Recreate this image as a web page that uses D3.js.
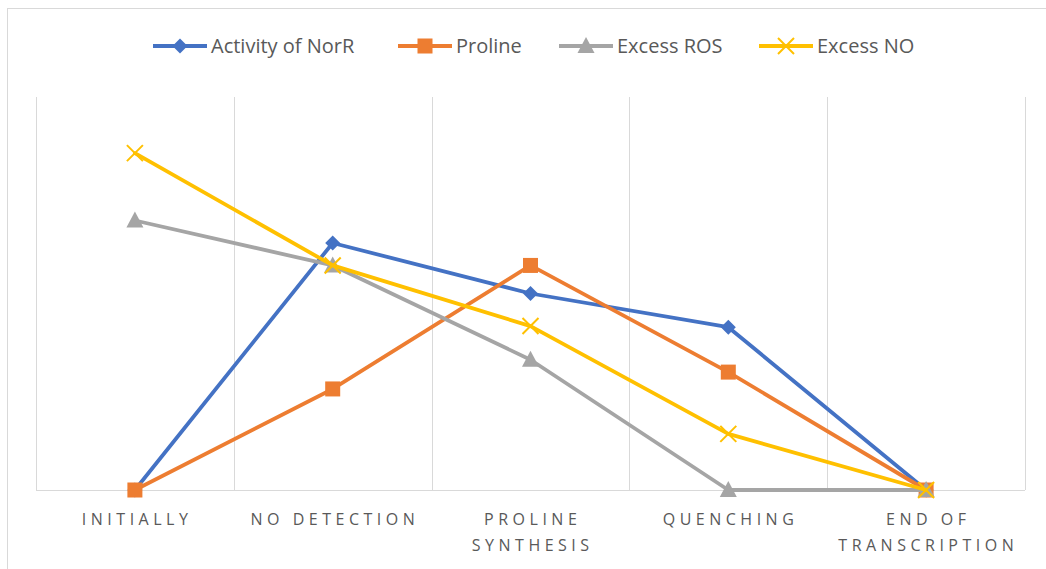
<!DOCTYPE html>
<html><head><meta charset="utf-8">
<script src="https://cdn.jsdelivr.net/npm/d3@7"></script>
<style>body{margin:0;background:#fff}svg{display:block}</style>
</head><body>
<script>
const categories = [["INITIALLY"],["NO DETECTION"],["PROLINE","SYNTHESIS"],["QUENCHING"],["END OF","TRANSCRIPTION"]];
const seriesNames = ["Activity of NorR","Proline","Excess ROS","Excess NO"];
const norR    = [0, 2.2, 1.75, 1.45, 0];
const proline = [0, 0.9, 2.0, 1.05, 0];
const ros     = [2.4, 2.0, 1.16, 0, 0];
const no      = [3.0, 2.0, 1.46, 0.5, 0];
const colors = ["#4472C4","#ED7D31","#A5A5A5","#FFC000"];
const markers = ["diamond","square","triangle","x"];
const allSeries = [norR, proline, ros, no];

(function(){
const W=1046,H=569;
const svg=d3.select("body").append("svg").attr("width",W).attr("height",H);
svg.append("rect").attr("x",7.5).attr("y",8.5).attr("width",W).attr("height",H).attr("fill","#fff").attr("stroke","#d9d9d9").attr("stroke-width",1);

const pl=36,pr=1025,pt=97,pb=490;
const x=d3.scaleBand().domain(d3.range(categories.length)).range([pl,pr]);
const y=d3.scaleLinear().domain([0,3.5]).range([pb,pt]);

const g=svg.append("g");
const edges=d3.range(categories.length+1).map(i=> i<categories.length? x(i): pr);
g.selectAll("line.grid").data(edges).join("line")
  .attr("x1",d=>Math.round(d)+0.5).attr("x2",d=>Math.round(d)+0.5)
  .attr("y1",pt).attr("y2",pb).attr("stroke","#d9d9d9").attr("stroke-width",1);
g.append("line").attr("x1",pl).attr("x2",pr).attr("y1",pb+0.5).attr("y2",pb+0.5).attr("stroke","#d9d9d9");

const cx=i=>x(i)+x.bandwidth()/2;
categories.forEach((lines,i)=>{
  const t=svg.append("text").attr("x",cx(i)).attr("y",525).attr("text-anchor","middle")
   .attr("font-family","'Open Sans', sans-serif").attr("font-size",16).attr("fill","#595959").attr("letter-spacing","4.5px");
  lines.forEach((l,j)=>t.append("tspan").attr("x",cx(i)+2.2).attr("dy",j?26:0).text(l));
});

function drawMarker(sel,type,color,px,py){
  if(type==="diamond"){
    sel.append("path").attr("d",`M${px},${py-7.5}L${px+7.5},${py}L${px},${py+7.5}L${px-7.5},${py}Z`).attr("fill",color);
  } else if(type==="square"){
    sel.append("rect").attr("x",px-7.5).attr("y",py-7.5).attr("width",15).attr("height",15).attr("fill",color);
  } else if(type==="triangle"){
    sel.append("path").attr("d",`M${px},${py-9}L${px+8.5},${py+7}L${px-8.5},${py+7}Z`).attr("fill",color);
  } else {
    sel.append("path").attr("d",`M${px-8},${py-8}L${px+8},${py+8}M${px+8},${py-8}L${px-8},${py+8}`).attr("stroke",color).attr("stroke-width",2).attr("fill","none");
  }
}

const line=d3.line().x((d,i)=>cx(i)).y(d=>y(d));
allSeries.forEach((s,k)=>{
  const sg=svg.append("g");
  sg.append("path").datum(s).attr("d",line).attr("fill","none").attr("stroke",colors[k]).attr("stroke-width",3.8).attr("stroke-linejoin","round").attr("stroke-linecap","round");
  s.forEach((v,i)=>drawMarker(sg,markers[k],colors[k],cx(i),y(v)));
});

const legX=[153,398,559,759];
seriesNames.forEach((n,k)=>{
  const lg=svg.append("g");
  lg.append("line").attr("x1",legX[k]).attr("x2",legX[k]+54).attr("y1",46).attr("y2",46).attr("stroke",colors[k]).attr("stroke-width",3.8);
  drawMarker(lg,markers[k],colors[k],legX[k]+27,46);
  lg.append("text").attr("x",legX[k]+58).attr("y",53).attr("font-family","'Open Sans', sans-serif").attr("font-size",20).attr("fill","#595959").text(n);
});
})();
</script>
</body></html>
